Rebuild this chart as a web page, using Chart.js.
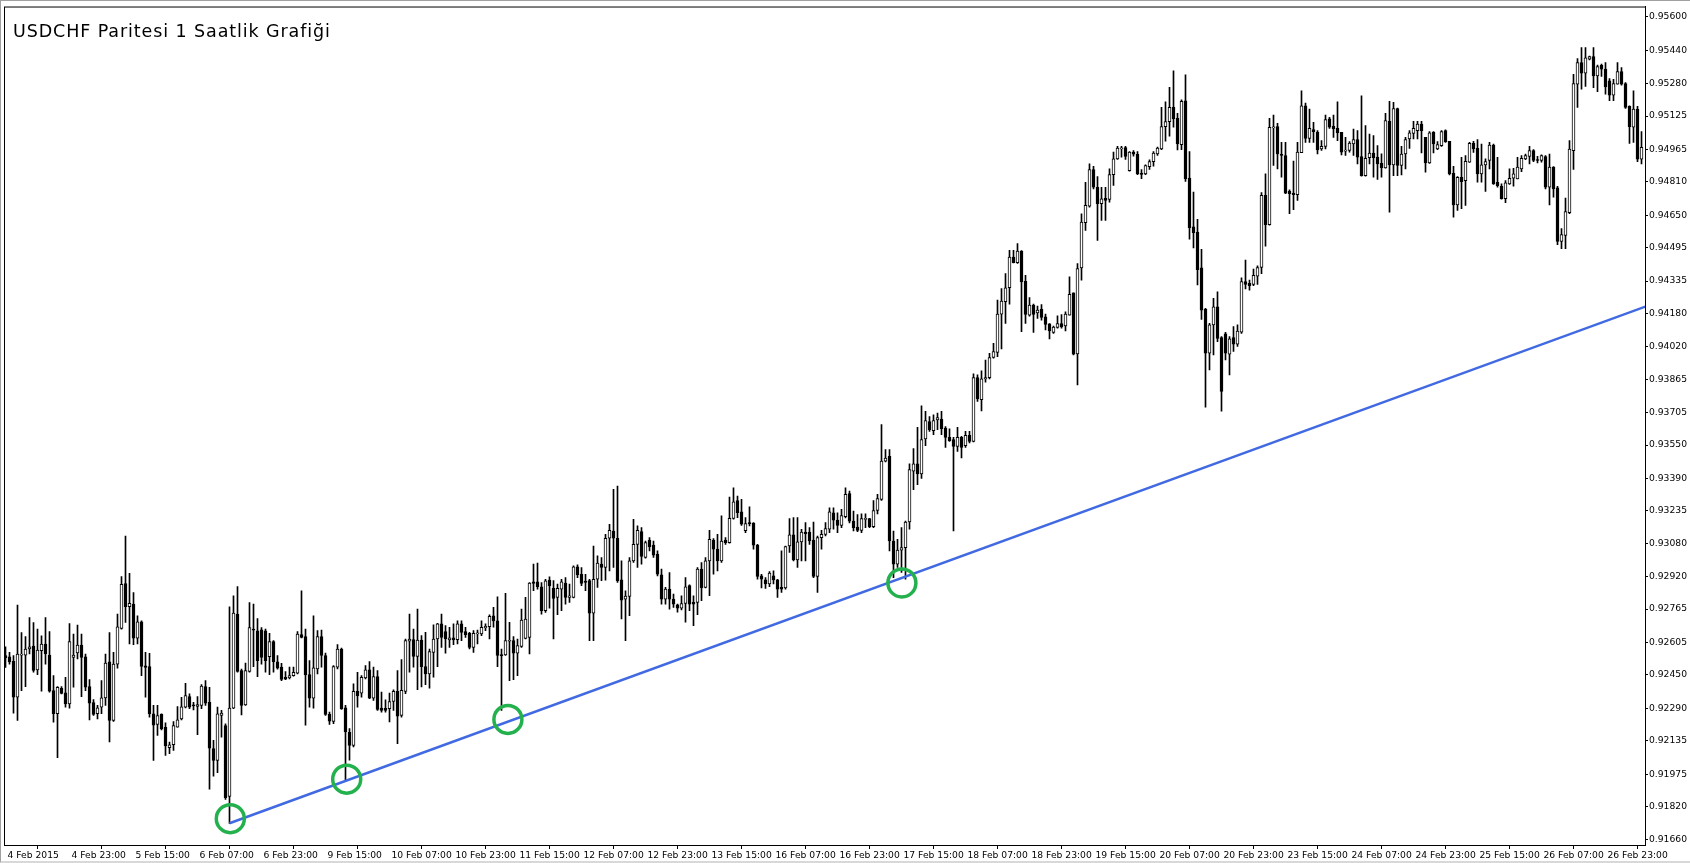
<!DOCTYPE html>
<html>
<head>
<meta charset="utf-8">
<title>USDCHF Paritesi 1 Saatlik Grafiği</title>
<script src="https://cdn.jsdelivr.net/npm/chart.js@4.4.1/dist/chart.umd.min.js"></script>
<style>
  html, body { margin: 0; padding: 0; background: #fff; }
  #wrap { position: relative; width: 1690px; height: 863px; overflow: hidden; background: #fff; }
  #frame { position: absolute; left: 0; top: 0; right: 0; bottom: 0; border-left: 1px solid #a0a0a0; border-top: 1px solid #a0a0a0; border-bottom: 2px solid #d8d8d8; pointer-events: none; }
  #baslik { position: absolute; left: 13px; top: 23px; font-family: "DejaVu Sans", sans-serif; font-size: 17.5px; line-height: 1; letter-spacing: 0.9px; color: #000; white-space: nowrap; }
</style>
</head>
<body>
<div id="wrap">
  <canvas id="grafik" width="1690" height="863"></canvas>
  <div id="baslik">USDCHF Paritesi 1 Saatlik Grafiği</div>
  <div id="frame"></div>
</div>
<script>
// hourly bars from 4 Feb 2015 07:00 (bar 0) to 27 Feb 08:00 (bar 409)
var acilis = [
  .92542,.92537,.92515,.92343,.92544,.92545,.92574,.92588,.92474,.92566,
  .92598,.92545,.92375,.92264,.92386,.92364,.92311,.92534,.92555,.92593,
  .92537,.92394,.92318,.92264,.92296,.92340,.92513,.92232,.92502,.92672,
  .92887,.92777,.92789,.92626,.92704,.92494,.92490,.92264,.92213,.92261,
  .92199,.92102,.92116,.92200,.92240,.92296,.92346,.92307,.92299,.92304,
  .92394,.92319,.92097,.92041,.92256,.92208,.91869,.92291,.92741,.92471,
  .92307,.92467,.92669,.92661,.92666,.92661,.92537,.92609,.92513,.92487,
  .92439,.92436,.92447,.92458,.92643,.92633,.92452,.92339,.92479,.92633,
  .92543,.92261,.92228,.92487,.92574,.92293,.92175,.92113,.92371,.92363,
  .92436,.92474,.92339,.92442,.92291,.92290,.92288,.92323,.92371,.92256,
  .92371,.92611,.92619,.92539,.92617,.92490,.92455,.92558,.92622,.92694,
  .92657,.92617,.92627,.92619,.92694,.92657,.92649,.92582,.92646,.92646,
  .92675,.92681,.92733,.92709,.92547,.92546,.92611,.92614,.92554,.92587,
  .92625,.92630,.92895,.92895,.92872,.92757,.92904,.92864,.92821,.92861,
  .92889,.92821,.92821,.92967,.92932,.92899,.92901,.92745,.92908,.92980,
  .92964,.93104,.93139,.93104,.92905,.92813,.92826,.92996,.93075,.93136,
  .93012,.93095,.93072,.93028,.92929,.92813,.92861,.92813,.92786,.92770,
  .92792,.92877,.92797,.92797,.92956,.92869,.92996,.93095,.93052,.92996,
  .93095,.93083,.93199,.93285,.93230,.93140,.93177,.93177,.93071,.92924,
  .92905,.92885,.92924,.92905,.92869,.92866,.93067,.93120,.93001,.93087,
  .93134,.93134,.93095,.92921,.93107,.93123,.93147,.93226,.93191,.93166,
  .93207,.93318,.93186,.93158,.93142,.93194,.93198,.93159,.93237,.93290,
  .93473,.93496,.93091,.92980,.93047,.93059,.93182,.93425,.93460,.93412,
  .93579,.93663,.93619,.93671,.93674,.93631,.93587,.93576,.93544,.93587,
  .93547,.93597,.93568,.93873,.93767,.93867,.93873,.93969,.93993,.94177,
  .94236,.94304,.94450,.94423,.94479,.94334,.94172,.94220,.94183,.94201,
  .94164,.94130,.94089,.94113,.94132,.94120,.94172,.94279,.93986,.94398,
  .94614,.94694,.94869,.94784,.94705,.94732,.94726,.94844,.94920,.94968,
  .94974,.94863,.94952,.94941,.94851,.94848,.94883,.94907,.94944,.94968,
  .95074,.95098,.95166,.95114,.94988,.95198,.94828,.94594,.94570,.94398,
  .94200,.93990,.94125,.94212,.94065,.94082,.93985,.94065,.94033,.94090,
  .94332,.94324,.94319,.94359,.94400,.94745,.94605,.95068,.95074,.94941,
  .94936,.94764,.94756,.94748,.94949,.95174,.95018,.95060,.95047,.94968,
  .94979,.95111,.95076,.95066,.95047,.94957,.94960,.94991,.95012,.94931,
  .94840,.94925,.94947,.94928,.94899,.94877,.95099,.94891,.95161,.94888,
  .94943,.95015,.95042,.95055,.95086,.95023,.94900,.95047,.94967,.94983,
  .95055,.95004,.94851,.94700,.94832,.94816,.94904,.94994,.94970,.94848,
  .94891,.94912,.94986,.94808,.94789,.94729,.94800,.94827,.94824,.94872,
  .94920,.94931,.94959,.94915,.94912,.94931,.94784,.94880,.94781,.94525,
  .94554,.94662,.94959,.95277,.95381,.95330,.95397,.95409,.95317,.95368,
  .95349,.95293,.95225,.95277,.95338,.95280,.95171,.95071,.95158,.94919
];
var yuksek = [
  .92585,.92558,.92542,.92784,.92653,.92633,.92725,.92701,.92669,.92637,
  .92725,.92657,.92447,.92394,.92394,.92439,.92696,.92645,.92688,.92645,
  .92550,.92428,.92332,.92304,.92423,.92550,.92653,.92558,.92741,.92921,
  .93114,.92936,.92844,.92733,.92709,.92558,.92553,.92304,.92304,.92264,
  .92221,.92129,.92227,.92299,.92343,.92410,.92359,.92319,.92346,.92404,
  .92423,.92391,.92137,.92296,.92280,.92216,.92776,.92828,.92873,.92478,
  .92507,.92796,.92789,.92720,.92677,.92669,.92649,.92614,.92542,.92506,
  .92466,.92487,.92487,.92657,.92853,.92670,.92519,.92733,.92662,.92665,
  .92554,.92272,.92495,.92595,.92579,.92304,.92193,.92407,.92463,.92447,
  .92495,.92514,.92487,.92471,.92368,.92331,.92363,.92379,.92471,.92523,
  .92622,.92741,.92670,.92765,.92638,.92654,.92574,.92690,.92697,.92741,
  .92686,.92678,.92694,.92709,.92709,.92678,.92654,.92662,.92665,.92709,
  .92694,.92738,.92773,.92824,.92574,.92840,.92702,.92633,.92622,.92765,
  .92821,.92892,.92980,.92985,.92892,.92908,.92919,.92901,.92885,.92908,
  .92916,.92885,.92972,.92977,.92964,.92932,.92908,.93067,.93020,.93012,
  .93123,.93171,.93338,.93354,.92996,.92853,.93012,.93195,.93163,.93155,
  .93091,.93107,.93091,.93044,.92956,.92869,.92940,.92837,.92789,.92829,
  .92916,.92881,.92829,.92964,.92988,.93012,.93142,.93102,.93123,.93211,
  .93107,.93301,.93346,.93306,.93290,.93203,.93254,.93179,.93075,.92932,
  .92916,.92945,.92948,.92908,.93044,.93067,.93198,.93203,.93203,.93147,
  .93179,.93155,.93182,.93115,.93142,.93179,.93250,.93250,.93226,.93242,
  .93345,.93330,.93234,.93218,.93221,.93221,.93199,.93285,.93314,.93648,
  .93528,.93528,.93139,.93099,.93155,.93186,.93460,.93533,.93635,.93738,
  .93711,.93687,.93695,.93703,.93711,.93639,.93628,.93587,.93635,.93592,
  .93616,.93616,.93891,.93886,.93905,.93957,.93989,.94037,.94244,.94299,
  .94371,.94482,.94482,.94514,.94481,.94363,.94256,.94225,.94215,.94223,
  .94177,.94132,.94120,.94169,.94175,.94188,.94355,.94279,.94419,.94657,
  .94808,.94896,.94884,.94835,.94784,.94784,.94872,.94952,.94980,.94980,
  .94980,.94955,.94960,.94955,.94869,.94891,.94915,.94955,.94976,.95166,
  .95193,.95262,.95341,.95138,.95203,.95322,.94955,.94761,.94630,.94487,
  .94204,.94133,.94252,.94284,.94069,.94090,.94069,.94117,.94125,.94351,
  .94435,.94340,.94392,.94408,.94758,.94848,.95114,.95130,.95090,.94999,
  .94999,.94772,.94909,.94999,.95246,.95187,.95158,.95095,.95055,.95007,
  .95130,.95119,.95130,.95193,.95047,.95023,.95003,.95063,.95055,.95222,
  .95079,.95039,.95031,.94983,.94944,.95138,.95195,.95190,.95163,.94980,
  .95023,.95055,.95099,.95099,.95099,.95023,.95050,.95050,.95002,.95055,
  .95059,.95004,.94884,.94835,.94927,.94935,.94999,.95004,.95012,.94991,
  .94920,.94999,.94991,.94927,.94800,.94816,.94872,.94875,.94927,.94935,
  .94943,.94980,.94964,.94932,.94939,.94935,.94943,.94883,.94789,.94586,
  .94732,.95007,.95325,.95400,.95452,.95452,.95412,.95452,.95369,.95373,
  .95381,.95304,.95301,.95381,.95357,.95285,.95174,.95245,.95171,.95050
];
var dusuk = [
  .92486,.92502,.92267,.92232,.92375,.92394,.92550,.92463,.92451,.92372,
  .92502,.92367,.92224,.92054,.92359,.92296,.92291,.92391,.92526,.92346,
  .92375,.92235,.92256,.92240,.92264,.92304,.92129,.92227,.92482,.92669,
  .92701,.92598,.92595,.92598,.92447,.92343,.92248,.92041,.92160,.92187,
  .92065,.92073,.92089,.92200,.92235,.92292,.92288,.92283,.92164,.92288,
  .92304,.91903,.91965,.91982,.92152,.91854,.91739,.92288,.92463,.92259,
  .92304,.92463,.92490,.92442,.92502,.92463,.92451,.92463,.92478,.92423,
  .92427,.92431,.92444,.92455,.92627,.92209,.92296,.92291,.92455,.92487,
  .92256,.92213,.92217,.92479,.92285,.91946,.92042,.92105,.92296,.92344,
  .92431,.92336,.92328,.92280,.92272,.92272,.92225,.92280,.92121,.92248,
  .92360,.92463,.92487,.92379,.92392,.92403,.92387,.92439,.92490,.92582,
  .92554,.92582,.92595,.92598,.92614,.92630,.92574,.92558,.92598,.92638,
  .92662,.92622,.92678,.92490,.92280,.92543,.92423,.92427,.92447,.92582,
  .92622,.92551,.92853,.92861,.92741,.92749,.92770,.92622,.92738,.92757,
  .92789,.92797,.92818,.92916,.92877,.92853,.92614,.92614,.92869,.92901,
  .92904,.92948,.92964,.92893,.92718,.92614,.92734,.92988,.92964,.92980,
  .93009,.93044,.93012,.92924,.92789,.92789,.92765,.92773,.92750,.92761,
  .92702,.92757,.92686,.92738,.92805,.92866,.92829,.92932,.92948,.92988,
  .93075,.93080,.93195,.93203,.93165,.93131,.93163,.93052,.92908,.92866,
  .92864,.92872,.92885,.92821,.92845,.92861,.93036,.92996,.92964,.92996,
  .92996,.93075,.92916,.92845,.93052,.93115,.93131,.93147,.93131,.93155,
  .93202,.93178,.93139,.93136,.93131,.93155,.93155,.93155,.93221,.93285,
  .93469,.93043,.92916,.92964,.92940,.92908,.93147,.93337,.93361,.93390,
  .93547,.93616,.93600,.93624,.93600,.93539,.93568,.93139,.93520,.93488,
  .93539,.93560,.93565,.93759,.93714,.93851,.93867,.93966,.93973,.94010,
  .94132,.94225,.94422,.94419,.94093,.94132,.94167,.94089,.94156,.94148,
  .94101,.94058,.94085,.94109,.94109,.94096,.94172,.93981,.93838,.94339,
  .94578,.94689,.94776,.94530,.94625,.94625,.94713,.94793,.94917,.94928,
  .94917,.94861,.94933,.94844,.94825,.94844,.94869,.94885,.94936,.94964,
  .95004,.95028,.95071,.94963,.94964,.94812,.94535,.94494,.94316,.94152,
  .93732,.93910,.93982,.94045,.93712,.93958,.93886,.93998,.94022,.94085,
  .94297,.94292,.94313,.94319,.94371,.94502,.94602,.94888,.94872,.94832,
  .94753,.94658,.94677,.94721,.94949,.94999,.94999,.94999,.94944,.94960,
  .94968,.95066,.95023,.95007,.94939,.94936,.94952,.94936,.94896,.94837,
  .94837,.94896,.94832,.94821,.94832,.94875,.94665,.94840,.94840,.94843,
  .94872,.94970,.95015,.95015,.94948,.94856,.94898,.94948,.94964,.94980,
  .94999,.94843,.94641,.94673,.94681,.94697,.94903,.94951,.94808,.94808,
  .94764,.94872,.94798,.94784,.94727,.94710,.94797,.94789,.94824,.94859,
  .94916,.94896,.94907,.94900,.94904,.94776,.94700,.94737,.94509,.94490,
  .94490,.94657,.94869,.95166,.95253,.95266,.95393,.95261,.95241,.95314,
  .95229,.95198,.95198,.95277,.95272,.95161,.94994,.94999,.94907,.94896
];
var kapanis = [
  .92531,.92512,.92343,.92550,.92550,.92574,.92585,.92471,.92569,.92598,
  .92550,.92372,.92264,.92391,.92362,.92311,.92610,.92545,.92593,.92534,
  .92391,.92315,.92261,.92292,.92340,.92507,.92232,.92502,.92680,.92884,
  .92777,.92793,.92626,.92704,.92491,.92486,.92264,.92210,.92256,.92192,
  .92110,.92116,.92207,.92235,.92297,.92351,.92296,.92302,.92308,.92397,
  .92315,.92100,.92041,.92264,.92267,.91863,.92291,.92746,.92467,.92304,
  .92471,.92677,.92664,.92518,.92534,.92518,.92609,.92513,.92482,.92428,
  .92430,.92447,.92463,.92646,.92630,.92450,.92339,.92484,.92633,.92543,
  .92261,.92229,.92490,.92574,.92288,.92177,.92113,.92371,.92349,.92439,
  .92474,.92339,.92442,.92285,.92280,.92280,.92323,.92371,.92253,.92376,
  .92614,.92622,.92539,.92617,.92490,.92455,.92562,.92622,.92694,.92630,
  .92622,.92627,.92617,.92694,.92654,.92643,.92582,.92649,.92651,.92678,
  .92683,.92730,.92709,.92543,.92541,.92614,.92614,.92554,.92590,.92713,
  .92717,.92889,.92888,.92872,.92757,.92900,.92876,.92816,.92864,.92896,
  .92821,.92829,.92967,.92929,.92888,.92893,.92745,.92908,.92985,.92964,
  .93104,.93142,.93104,.92901,.92808,.92827,.92996,.93075,.93142,.93017,
  .93083,.93064,.93023,.92932,.92813,.92861,.92813,.92789,.92770,.92792,
  .92872,.92789,.92789,.92956,.92866,.92996,.93099,.93052,.92996,.93091,
  .93083,.93199,.93279,.93226,.93171,.93174,.93174,.93071,.92921,.92908,
  .92885,.92937,.92905,.92861,.92861,.93064,.93120,.93001,.93087,.93134,
  .93126,.93091,.92921,.93107,.93123,.93150,.93230,.93191,.93166,.93213,
  .93314,.93186,.93155,.93142,.93198,.93199,.93159,.93237,.93294,.93473,
  .93488,.93091,.92980,.93047,.93059,.93182,.93433,.93460,.93412,.93576,
  .93667,.93624,.93667,.93682,.93628,.93587,.93571,.93544,.93587,.93539,
  .93597,.93568,.93873,.93771,.93867,.93873,.93969,.93997,.94177,.94239,
  .94303,.94450,.94423,.94479,.94331,.94175,.94220,.94175,.94196,.94161,
  .94128,.94097,.94115,.94132,.94115,.94177,.94272,.93985,.94395,.94617,
  .94697,.94869,.94784,.94705,.94729,.94721,.94845,.94920,.94971,.94971,
  .94931,.94952,.94942,.94848,.94845,.94888,.94907,.94947,.94971,.95074,
  .95098,.95166,.95111,.94991,.95195,.94825,.94591,.94567,.94390,.94196,
  .93990,.94125,.94212,.94061,.93807,.93990,.94058,.94033,.94096,.94332,
  .94319,.94313,.94363,.94400,.94745,.94605,.95071,.95071,.94944,.94936,
  .94756,.94753,.94748,.94952,.95174,.95018,.95066,.95050,.94963,.94980,
  .95108,.95071,.95063,.95044,.94952,.94960,.94995,.95012,.94928,.94840,
  .94923,.94947,.94925,.94896,.94877,.95103,.94891,.95161,.94888,.94943,
  .95012,.95044,.95066,.95086,.95055,.94900,.95044,.94991,.94988,.95050,
  .95002,.94848,.94700,.94832,.94811,.94908,.94994,.94967,.94848,.94891,
  .94907,.94986,.94800,.94792,.94729,.94805,.94827,.94848,.94880,.94923,
  .94935,.94959,.94912,.94912,.94935,.94784,.94880,.94776,.94525,.94557,
  .94668,.94967,.95280,.95381,.95330,.95404,.95409,.95317,.95361,.95349,
  .95264,.95225,.95280,.95338,.95277,.95166,.95074,.95158,.94919,.94975
];

// time axis labels, one every 16 bars
var zamanEtiketleri = ['4 Feb 2015', '4 Feb 23:00', '5 Feb 15:00', '6 Feb 07:00', '6 Feb 23:00',
  '9 Feb 15:00', '10 Feb 07:00', '10 Feb 23:00', '11 Feb 15:00', '12 Feb 07:00', '12 Feb 23:00',
  '13 Feb 15:00', '16 Feb 07:00', '16 Feb 23:00', '17 Feb 15:00', '18 Feb 07:00', '18 Feb 23:00',
  '19 Feb 15:00', '20 Feb 07:00', '20 Feb 23:00', '23 Feb 15:00', '24 Feb 07:00', '24 Feb 23:00',
  '25 Feb 15:00', '26 Feb 07:00', '26 Feb 23:00'];
var etiketAraligi = 16;

// price scale labels as printed on the right
var fiyatEtiketleri = [0.95600, 0.95440, 0.95280, 0.95125, 0.94965, 0.94810, 0.94650, 0.94495,
  0.94335, 0.94180, 0.94020, 0.93865, 0.93705, 0.93550, 0.93390, 0.93235, 0.93080, 0.92920,
  0.92765, 0.92605, 0.92450, 0.92290, 0.92135, 0.91975, 0.91820, 0.91660];

// support trend line and the marked touches
var trendBar = [56, 410];
var trendFiyat = [0.91740, 0.94213];
var temasBar = [56.2, 85.3, 125.6, 224.1];
var temasFiyat = [0.91762, 0.91951, 0.92237, 0.92890];

var fitiller = [];
var govdeler = [];
var govdeRenk = [];
for (var i = 0; i < acilis.length; i++) {
  fitiller.push({x: i, y: [dusuk[i], yuksek[i]]});
  govdeler.push({x: i, y: [acilis[i], kapanis[i]]});
  govdeRenk.push(kapanis[i] >= acilis[i] ? '#ffffff' : '#000000');
}
var trendVeri = trendBar.map(function (b, k) { return {x: b, y: trendFiyat[k]}; });
var temasVeri = temasBar.map(function (b, k) { return {x: b, y: temasFiyat[k]}; });

// top and left edges of the plot box
var cerceve = {
  id: 'cerceve',
  beforeDatasetsDraw: function (chart) {
    var a = chart.chartArea, ctx = chart.ctx;
    ctx.save();
    ctx.strokeStyle = '#000';
    ctx.lineWidth = 1;
    ctx.strokeRect(a.left + 0.5, a.top + 0.5, a.right - a.left, a.bottom - a.top);
    ctx.restore();
  }
};

Chart.defaults.font.family = '"DejaVu Sans", sans-serif';
Chart.defaults.color = '#000';

var cxt = document.getElementById('grafik');
var grafik = new Chart(cxt, {
  type: 'bar',
  data: {
    datasets: [
      {
        label: 'fitil',
        data: fitiller,
        backgroundColor: '#000',
        borderWidth: 0,
        barThickness: 1,
        grouped: false,
        order: 3
      },
      {
        label: 'govde',
        data: govdeler,
        backgroundColor: govdeRenk,
        borderColor: '#000',
        borderWidth: 1,
        borderSkipped: false,
        barThickness: 3,
        minBarLength: 1,
        grouped: false,
        order: 2
      },
      {
        type: 'line',
        label: 'trend',
        data: trendVeri,
        borderColor: '#4169e1',
        borderWidth: 2.5,
        pointRadius: 0,
        tension: 0,
        fill: false,
        order: 1
      },
      {
        type: 'line',
        label: 'temas',
        data: temasVeri,
        showLine: false,
        pointStyle: 'circle',
        pointRadius: 14,
        pointBorderWidth: 3.5,
        pointBorderColor: '#22b14c',
        pointBackgroundColor: 'rgba(0,0,0,0)',
        order: 0
      }
    ]
  },
  options: {
    responsive: false,
    animation: false,
    events: [],
    layout: { autoPadding: false, padding: { left: 4, top: 4, right: 0, bottom: 0 } },
    plugins: {
      legend: { display: false },
      tooltip: { enabled: false },
      title: { display: false }
    },
    scales: {
      x: {
        type: 'linear',
        min: -0.375,
        max: 409.875,
        offset: false,
        grid: { drawOnChartArea: false, drawTicks: true, tickLength: 4, tickColor: '#000' },
        border: { display: true, color: '#000', width: 1 },
        afterBuildTicks: function (scale) {
          scale.ticks = zamanEtiketleri.map(function (t, k) { return {value: k * etiketAraligi}; });
        },
        afterFit: function (scale) { scale.height = 18; },
        ticks: {
          autoSkip: false,
          maxRotation: 0,
          minRotation: 0,
          align: 'start',
          labelOffset: 2,
          padding: 1,
          font: { size: 9.2 },
          color: '#000',
          callback: function (v, k) { return zamanEtiketleri[k]; }
        }
      },
      y: {
        type: 'linear',
        position: 'right',
        min: 0.91636,
        max: 0.95649,
        grid: { drawOnChartArea: false, drawTicks: true, tickLength: 3, tickColor: '#000' },
        border: { display: true, color: '#000', width: 1 },
        afterBuildTicks: function (scale) {
          scale.ticks = fiyatEtiketleri.map(function (v) { return {value: v}; });
        },
        afterFit: function (scale) { scale.width = 45; },
        ticks: {
          padding: 1,
          font: { size: 9.2 },
          color: '#000',
          callback: function (v) { return Number(v).toFixed(5); }
        }
      }
    }
  },
  plugins: [cerceve]
});
</script>
</body>
</html>
